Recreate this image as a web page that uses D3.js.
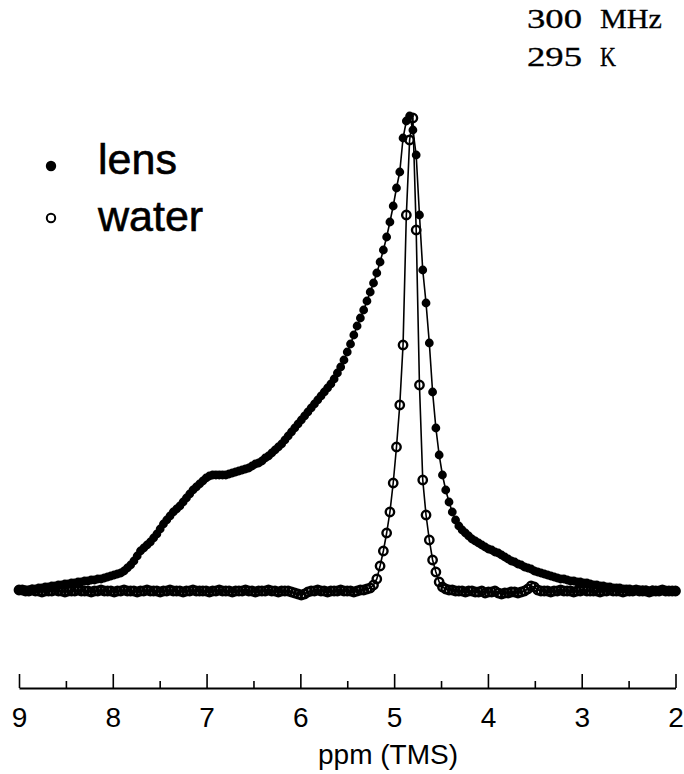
<!DOCTYPE html>
<html>
<head>
<meta charset="utf-8">
<script src="https://cdn.jsdelivr.net/npm/d3@7"></script>
<style>
  body { margin: 0; background: #fff; }
  svg { display: block; }
</style>
</head>
<body>
<div class="container"></div>
<script>
// spectrum sampling: one point every 0.035 ppm, from 9.0 down to 2.0
var ppmStart = 9.0;
var ppmStep = 0.035;

// lens signal (arbitrary units)
var lensValues = [
  1,1,1,1,2,2,3,3,4,4,
  5,5,6,6,7,7,8,8,9,9,
  10,10,11,11,12,12,13,14,15,16,
  17,18,20,23,26,30,35,40,43,46,
  49,53,57,62,67,71,75,79,82,85,
  89,93,97,101,104,107,110,113,115,116,
  116,116,116,116,117,118,119,120,121,122,
  123,125,127,128,130,133,135,138,141,144,
  147,151,155,159,163,167,171,175,179,183,
  187,191,195,199,203,207,212,218,224,231,
  239,247,256,265,273,281,290,299,308,318,
  329,341,354,369,385,403,419,453,470,475,
  461,436,376,321,288,248,199,163,136,116,
  101,89,79,71,65,61,58,55,52,50,
  48,46,44,42,41,39,38,36,34,32,
  30,29,27,26,24,23,22,20,19,18,
  17,16,15,14,13,12,12,11,10,10,
  9,9,8,8,7,6,6,5,5,4,
  4,3,3,3,2,2,2,1,1,1,
  1,1,0,1,0,0,1,0,0,0,0
];

// water signal (same units)
var waterValues = [
  1,1,0,0,1,0,0,-1,0,0,
  0,1,0,0,-1,0,0,0,1,0,
  0,0,-1,0,0,1,0,0,0,-1,
  0,0,1,0,0,0,-1,0,0,1,
  0,0,0,-1,0,0,1,0,0,0,
  -1,0,0,1,0,0,0,0,-1,0,
  0,1,0,0,0,-1,0,0,0,1,
  0,0,-1,0,0,0,1,0,0,-1,
  0,0,0,-1,-2,-3,-4,-3,-1,0,
  0,1,0,0,-1,0,0,0,1,0,
  0,0,-1,0,1,1,2,3,6,12,
  25,40,58,79,108,144,186,246,376,451,
  473,361,206,111,76,51,31,19,9,4,
  2,1,1,0,0,0,-1,0,0,-1,
  -1,0,-2,-1,-1,0,-2,-3,-2,-2,
  -1,-1,-2,-1,0,2,5,4,1,0,
  0,0,-1,0,0,1,0,0,0,-1,
  0,0,1,0,0,0,0,-1,0,0,
  1,0,0,0,-1,0,0,0,1,0,
  0,0,-1,0,0,0,1,0,0,0,0
];

var majorTicks = [9, 8, 7, 6, 5, 4, 3, 2];
var minorTicks = [8.5, 7.5, 6.5, 5.5, 4.5, 3.5, 2.5];
var legendNames = ['lens', 'water'];
var infoLines = [['300', 'MHz'], ['295', 'K']];

var width = 684, height = 774;

var svg = d3.select('.container').append('svg')
  .attr('width', width)
  .attr('height', height);

// scales (ppm runs right to left)
var x = d3.scaleLinear().domain([9, 2]).range([19, 675.5]);
var y = d3.scaleLinear().domain([0, 476]).range([591, 115]);

function toPoints(values){
  return values.map(function(v, i){
    return {ppm: ppmStart - i * ppmStep, v: v};
  });
}
var lens = toPoints(lensValues);
var water = toPoints(waterValues);

var line = d3.line()
  .x(function(d){ return x(d.ppm); })
  .y(function(d){ return y(d.v); });

// water: thin line + open circles
svg.append('path').datum(water)
  .attr('d', line)
  .attr('fill', 'none')
  .attr('stroke', '#000')
  .attr('stroke-width', 1.6);

svg.append('g').selectAll('circle')
  .data(water)
  .enter().append('circle')
  .attr('cx', function(d){ return x(d.ppm); })
  .attr('cy', function(d){ return y(d.v); })
  .attr('r', 4.2)
  .attr('fill', 'none')
  .attr('stroke', '#000')
  .attr('stroke-width', 2.4);

// lens: thin line + filled dots
svg.append('path').datum(lens)
  .attr('d', line)
  .attr('fill', 'none')
  .attr('stroke', '#000')
  .attr('stroke-width', 1.6);

svg.append('g').selectAll('circle')
  .data(lens)
  .enter().append('circle')
  .attr('cx', function(d){ return x(d.ppm); })
  .attr('cy', function(d){ return y(d.v); })
  .attr('r', 4.4)
  .attr('fill', '#000');

// x axis, ticks pointing up
var axisY = 688;
var axis = d3.axisBottom(x)
  .tickValues(majorTicks)
  .tickFormat(d3.format('d'))
  .tickSizeInner(-14)
  .tickSizeOuter(0)
  .tickPadding(19);

var gAxis = svg.append('g')
  .attr('transform', 'translate(0,' + axisY + ')')
  .call(axis);

gAxis.select('.domain').attr('stroke', '#000').attr('stroke-width', 1.8);
gAxis.selectAll('.tick line').attr('stroke', '#000').attr('stroke-width', 1.6);
gAxis.selectAll('.tick text')
  .attr('fill', '#000')
  .style('font-family', '"Liberation Sans", Arial, sans-serif')
  .style('font-size', '28px');

var minorAxis = d3.axisBottom(x)
  .tickValues(minorTicks)
  .tickFormat('')
  .tickSizeInner(-7)
  .tickSizeOuter(0);

var gMinor = svg.append('g')
  .attr('transform', 'translate(0,' + axisY + ')')
  .call(minorAxis);
gMinor.select('.domain').remove();
gMinor.selectAll('.tick line').attr('stroke', '#000').attr('stroke-width', 1.6);

svg.append('text')
  .attr('x', 388)
  .attr('y', 764)
  .attr('text-anchor', 'middle')
  .style('font-family', '"Liberation Sans", Arial, sans-serif')
  .style('font-size', '28px')
  .text('ppm (TMS)');

// legend
var legend = svg.append('g');
legend.append('circle')
  .attr('cx', 51).attr('cy', 166).attr('r', 5.2)
  .attr('fill', '#000');
legend.append('circle')
  .attr('cx', 51).attr('cy', 218).attr('r', 4.2)
  .attr('fill', 'none').attr('stroke', '#000').attr('stroke-width', 2);
legend.selectAll('text')
  .data(legendNames)
  .enter().append('text')
  .attr('x', 98)
  .attr('y', function(d, i){ return 174 + i * 57; })
  .attr('stroke', '#000')
  .attr('stroke-width', 0.6)
  .style('font-family', '"Liberation Sans", Arial, sans-serif')
  .style('font-size', '43px')
  .text(function(d){ return d; });

// field / temperature note, top right
var info = svg.append('g')
  .attr('stroke', '#000')
  .attr('stroke-width', 0.3)
  .style('font-family', '"Liberation Serif", "Times New Roman", serif')
  .style('font-size', '27px');
info.selectAll('text.num')
  .data(infoLines)
  .enter().append('text')
  .attr('class', 'num')
  .attr('x', 527)
  .attr('y', function(d, i){ return 28 + i * 38; })
  .attr('textLength', 55)
  .attr('lengthAdjust', 'spacingAndGlyphs')
  .text(function(d){ return d[0]; });
info.selectAll('text.unit')
  .data(infoLines)
  .enter().append('text')
  .attr('class', 'unit')
  .attr('x', 600)
  .attr('y', function(d, i){ return 28 + i * 38; })
  .attr('textLength', function(d){ return d[1].length > 1 ? 62 : 16; })
  .attr('lengthAdjust', 'spacingAndGlyphs')
  .text(function(d){ return d[1]; });
</script>
</body>
</html>
